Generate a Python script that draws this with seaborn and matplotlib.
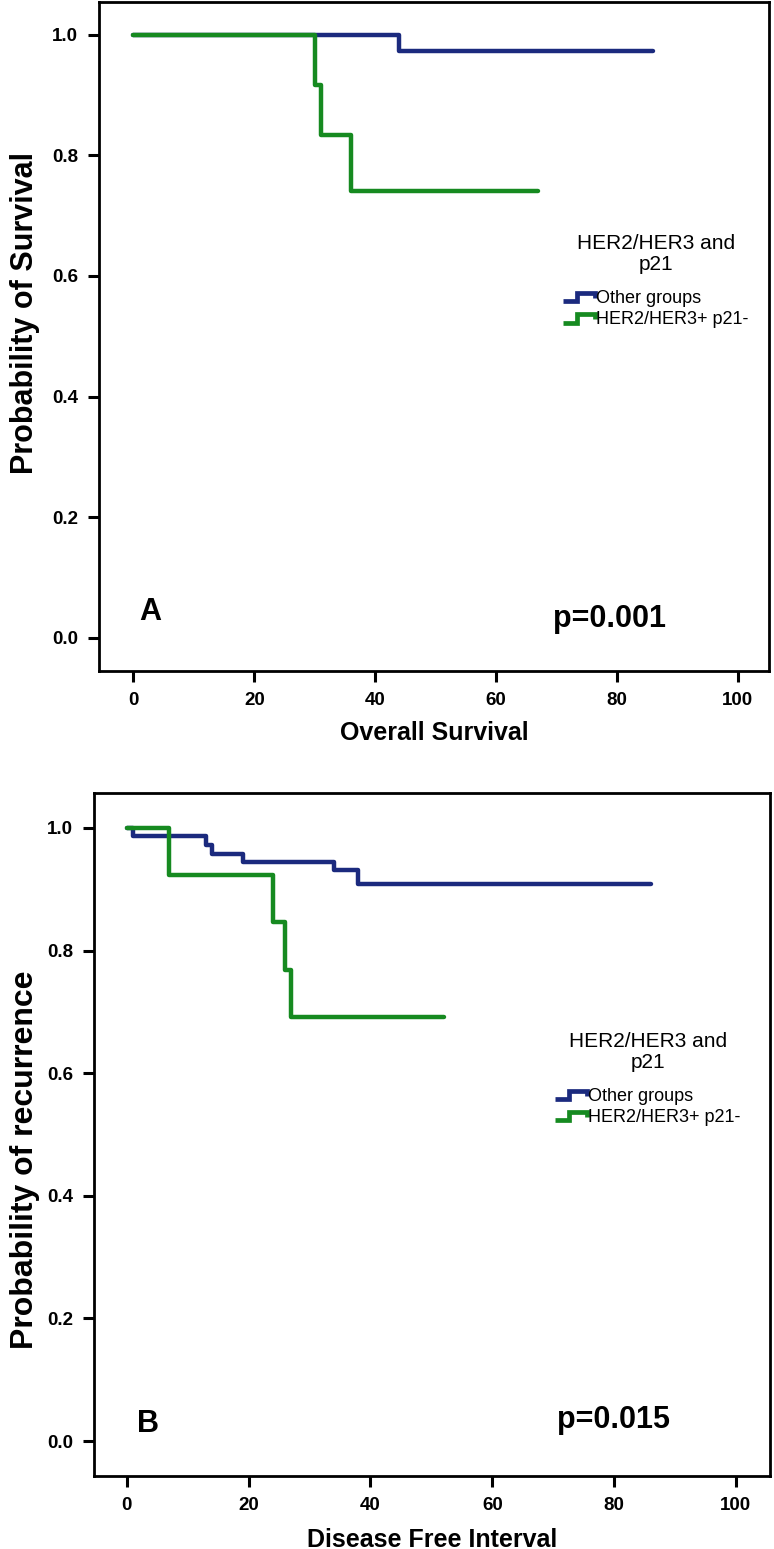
import matplotlib
matplotlib.use("Agg")
import matplotlib.pyplot as plt
import seaborn as sns
import pandas as pd
from matplotlib.legend_handler import HandlerBase
from matplotlib.lines import Line2D

# ---------------- data ----------------
groups = ["Other groups", "HER2/HER3+ p21-"]

os_other_t = [0, 44, 86]
os_other_s = [1.0, 0.972, 0.972]
os_her_t = [0, 30, 31, 36, 67]
os_her_s = [1.0, 0.917, 0.833, 0.741, 0.741]

dfi_other_t = [0, 1, 13, 14, 19, 34, 38, 86]
dfi_other_s = [1.0, 0.986, 0.972, 0.958, 0.944, 0.931, 0.909, 0.909]
dfi_her_t = [0, 7, 24, 26, 27, 52]
dfi_her_s = [1.0, 0.923, 0.846, 0.769, 0.692, 0.692]

x_ticks = [0, 20, 40, 60, 80, 100]
y_ticks = [0.0, 0.2, 0.4, 0.6, 0.8, 1.0]
y_tick_labels = ["0.0", "0.2", "0.4", "0.6", "0.8", "1.0"]
legend_title = "HER2/HER3 and\np21"
palette = {"Other groups": "#1b2a7e", "HER2/HER3+ p21-": "#168a20"}

# ---------------- style ----------------
sns.set_style("ticks")
plt.rcParams["font.family"] = ["Liberation Sans", "DejaVu Sans"]
for k in ["text.color", "axes.labelcolor", "xtick.color", "ytick.color",
          "axes.edgecolor"]:
    plt.rcParams[k] = "black"


class StepHandler(HandlerBase):
    def create_artists(self, legend, orig_handle, xdescent, ydescent,
                       width, height, fontsize, trans):
        x0, y0 = -xdescent, -ydescent
        xs = [x0, x0 + 0.45 * width, x0 + 0.45 * width, x0 + width, x0 + width]
        ys = [y0 + 0.15 * height, y0 + 0.15 * height, y0 + 0.8 * height,
              y0 + 0.8 * height, y0 + 0.45 * height]
        ln = Line2D(xs, ys, color=orig_handle.get_color(), lw=3.4,
                    solid_joinstyle="miter", solid_capstyle="butt")
        ln.set_transform(trans)
        return [ln]


def make_df(t1, s1, t2, s2):
    rows = []
    for t, s in zip(t1, s1):
        rows.append((groups[0], t, s))
    for t, s in zip(t2, s2):
        rows.append((groups[1], t, s))
    return pd.DataFrame(rows, columns=["group", "time", "surv"])


def panel(ax, df, xlim, ylim, xlabel, ylabel, ylab_size, ylab_pos, xlab_y,
          letter, letter_xy, pval, p_xy, leg_anchor):
    sns.lineplot(data=df, x="time", y="surv", hue="group", hue_order=groups,
                 palette=palette, drawstyle="steps-post", estimator=None,
                 sort=False, lw=3.2, legend=False, ax=ax)
    ax.set_xlim(*xlim)
    ax.set_ylim(*ylim)
    ax.set_xticks(x_ticks)
    ax.set_xticklabels([str(v) for v in x_ticks])
    ax.set_yticks(y_ticks)
    ax.set_yticklabels(y_tick_labels)
    ax.tick_params(axis="both", length=8, width=2.2, pad=7, labelsize=13.5,
                   color="black", labelcolor="black")
    for lab in ax.get_xticklabels() + ax.get_yticklabels():
        lab.set_fontweight("bold")
    for sp in ax.spines.values():
        sp.set_visible(True)
        sp.set_linewidth(2.0)
        sp.set_color("black")
    ax.set_xlabel(xlabel, fontsize=18, fontweight="bold")
    ax.set_ylabel(ylabel, fontsize=ylab_size, fontweight="bold")
    ax.xaxis.label.set_va("center")
    ax.yaxis.label.set_va("center")
    ax.xaxis.set_label_coords(0.5, xlab_y)
    ax.yaxis.set_label_coords(*ylab_pos)
    ax.text(letter_xy[0], letter_xy[1], letter, fontsize=22, fontweight="bold",
            ha="left", va="baseline")
    ax.text(p_xy[0], p_xy[1], pval, fontsize=22, fontweight="bold",
            ha="left", va="baseline")
    lines = ax.get_lines()[:2]
    leg = ax.legend(lines, groups, title=legend_title, loc="upper left",
                    bbox_to_anchor=leg_anchor, frameon=False, fontsize=13,
                    title_fontsize=15, handlelength=1.75, handleheight=0.7,
                    handletextpad=0.1, labelspacing=0.23, borderpad=0,
                    borderaxespad=0, handler_map={Line2D: StepHandler()})
    title = leg.get_title()
    title.set_linespacing(1.1)
    title.set_multialignment("center")
    leg._legend_box.sep = 12


fig = plt.figure(figsize=(7.74, 15.49), dpi=100)
fig.patch.set_facecolor("white")
ax1 = fig.add_axes([0.1279, 0.5668, 0.8656, 0.4319])
ax2 = fig.add_axes([0.1214, 0.0471, 0.8734, 0.4410])

panel(ax1, make_df(os_other_t, os_other_s, os_her_t, os_her_s),
      (-5.7, 105.2), (-0.055, 1.054), "Overall Survival", "Probability of Survival",
      22, (-0.110, 0.535), -0.0927, "A", (0.9, 0.029), "p=0.001", (69.4, 0.018),
      (0.6925, 0.653))
panel(ax2, make_df(dfi_other_t, dfi_other_s, dfi_her_t, dfi_her_s),
      (-5.4, 105.6), (-0.057, 1.057), "Disease Free Interval",
      "Probability of recurrence", 23, (-0.102, 0.463), -0.0937, "B",
      (1.6, 0.015), "p=0.015", (70.6, 0.021), (0.682, 0.650))

fig.savefig("out.png", dpi=100)
